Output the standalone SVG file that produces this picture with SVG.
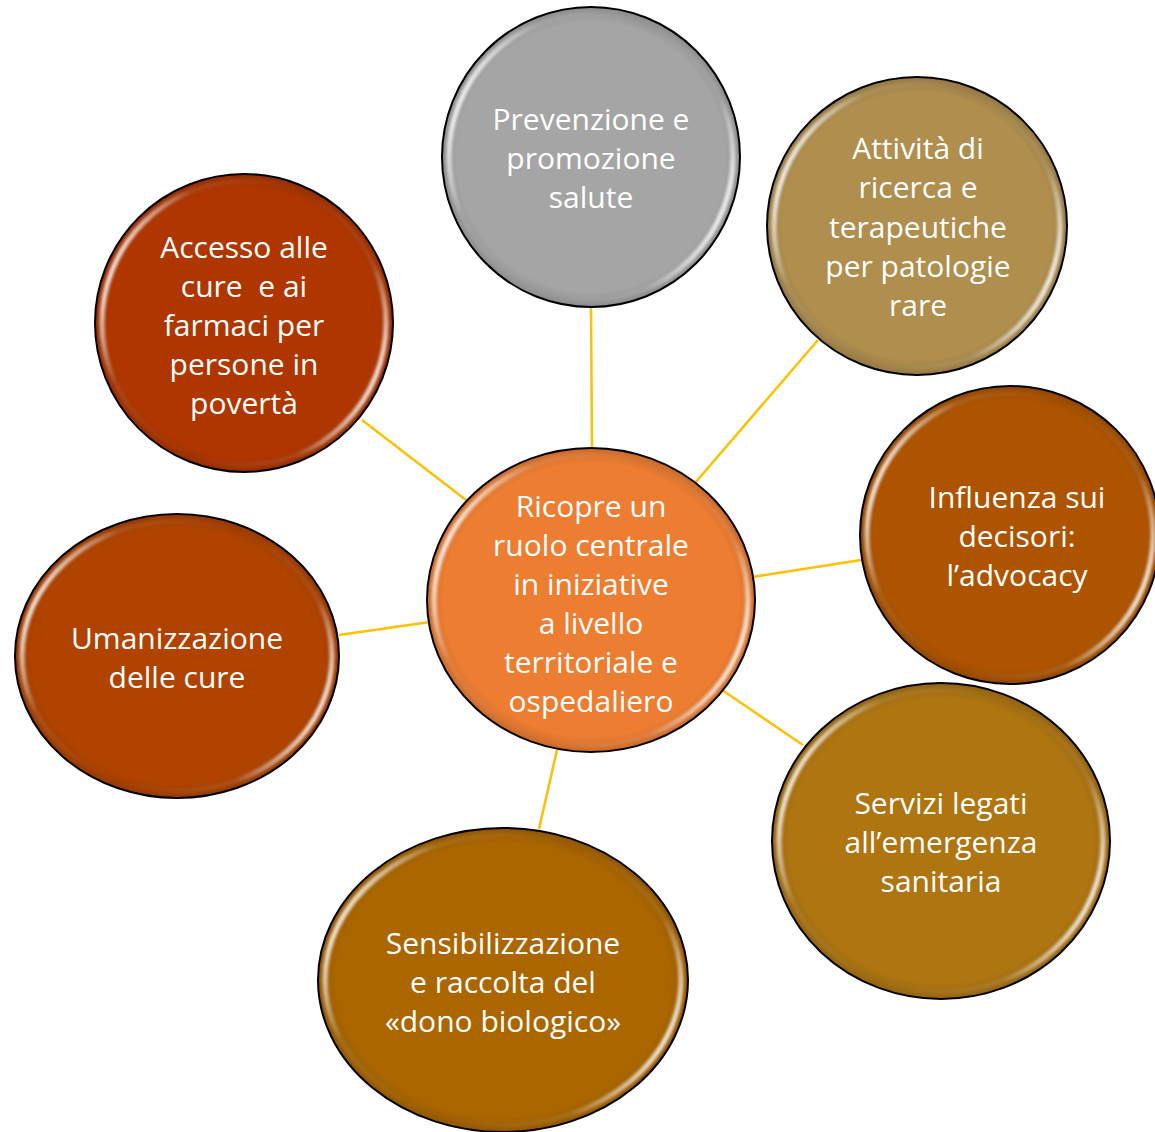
<svg xmlns="http://www.w3.org/2000/svg" width="1155" height="1132" viewBox="0 0 1155 1132">
<style>
.edge{stroke:#FFC000;stroke-width:2.5;fill:none}
.rim{fill:none;stroke:#000;stroke-width:2}
.hl{fill:none;stroke:url(#hlg);stroke-width:5;filter:url(#blur)}
.shade{fill:url(#shade)}
text{font-family:"Open Sans","Noto Sans","DejaVu Sans",sans-serif;font-size:30px;fill:#fff;text-anchor:middle}
</style>
<defs>
<linearGradient id="hlg" x1="0" y1="0.3" x2="1" y2="0.7">
<stop offset="0" stop-color="#fff" stop-opacity="1"/>
<stop offset="0.18" stop-color="#fff" stop-opacity="0.1"/>
<stop offset="0.5" stop-color="#fff" stop-opacity="0"/>
<stop offset="0.82" stop-color="#fff" stop-opacity="0.1"/>
<stop offset="1" stop-color="#fff" stop-opacity="1"/>
</linearGradient>
<radialGradient id="shade" cx="0.5" cy="0.5" r="0.5">
<stop offset="0.9" stop-color="#000" stop-opacity="0"/>
<stop offset="1" stop-color="#000" stop-opacity="0.15"/>
</radialGradient>
<filter id="blur" x="-10%" y="-10%" width="120%" height="120%"><feGaussianBlur stdDeviation="1.6"/></filter>
</defs>
<rect width="1155" height="1132" fill="#fff"/>
<g id="connectors">
<line class="edge" x1="591" y1="307" x2="592" y2="449"/>
<line class="edge" x1="818" y1="340" x2="695" y2="483"/>
<line class="edge" x1="362" y1="420" x2="466" y2="500"/>
<line class="edge" x1="861" y1="560" x2="752" y2="577"/>
<line class="edge" x1="339" y1="635" x2="430" y2="622"/>
<line class="edge" x1="803" y1="745" x2="722" y2="690"/>
<line class="edge" x1="539" y1="829" x2="557" y2="750"/>
</g>
<g id="node-prevenzione">
<ellipse cx="591" cy="157" rx="149" ry="150" fill="#A5A5A5"/>
<ellipse class="shade" cx="591" cy="157" rx="149" ry="150"/>
<ellipse class="hl" cx="591" cy="157" rx="142" ry="143"/>
<ellipse class="rim" cx="591" cy="157" rx="149" ry="150"/>
<text x="591" y="130">Prevenzione e</text>
<text x="591" y="169">promozione</text>
<text x="591" y="208">salute</text>
</g>
<g id="node-attivita">
<ellipse cx="917" cy="226" rx="150" ry="149" fill="#AF8E4E"/>
<ellipse class="shade" cx="917" cy="226" rx="150" ry="149"/>
<ellipse class="hl" cx="917" cy="226" rx="143" ry="142"/>
<ellipse class="rim" cx="917" cy="226" rx="150" ry="149"/>
<text x="918" y="159">Attività di</text>
<text x="918" y="198">ricerca e</text>
<text x="918" y="238">terapeutiche</text>
<text x="918" y="277">per patologie</text>
<text x="918" y="316">rare</text>
</g>
<g id="node-accesso">
<ellipse cx="244" cy="323" rx="149" ry="149" fill="#B03600"/>
<ellipse class="shade" cx="244" cy="323" rx="149" ry="149"/>
<ellipse class="hl" cx="244" cy="323" rx="142" ry="142"/>
<ellipse class="rim" cx="244" cy="323" rx="149" ry="149"/>
<text x="244" y="258">Accesso alle</text>
<text x="244" y="297" xml:space="preserve">cure  e ai</text>
<text x="244" y="336">farmaci per</text>
<text x="244" y="375">persone in</text>
<text x="244" y="414">povertà</text>
</g>
<g id="node-influenza">
<ellipse cx="1010" cy="535" rx="150" ry="149" fill="#AE5400"/>
<ellipse class="shade" cx="1010" cy="535" rx="150" ry="149"/>
<ellipse class="hl" cx="1010" cy="535" rx="143" ry="142"/>
<ellipse class="rim" cx="1010" cy="535" rx="150" ry="149"/>
<text x="1017" y="508">Influenza sui</text>
<text x="1017" y="547">decisori:</text>
<text x="1017" y="586">l’advocacy</text>
</g>
<g id="node-umanizzazione">
<ellipse cx="177" cy="656" rx="162" ry="142" fill="#B04300"/>
<ellipse class="shade" cx="177" cy="656" rx="162" ry="142"/>
<ellipse class="hl" cx="177" cy="656" rx="155" ry="135"/>
<ellipse class="rim" cx="177" cy="656" rx="162" ry="142"/>
<text x="177" y="649">Umanizzazione</text>
<text x="177" y="688">delle cure</text>
</g>
<g id="node-servizi">
<ellipse cx="941" cy="841" rx="169" ry="158" fill="#AE7511"/>
<ellipse class="shade" cx="941" cy="841" rx="169" ry="158"/>
<ellipse class="hl" cx="941" cy="841" rx="162" ry="151"/>
<ellipse class="rim" cx="941" cy="841" rx="169" ry="158"/>
<text x="941" y="814">Servizi legati</text>
<text x="941" y="853">all’emergenza</text>
<text x="941" y="892">sanitaria</text>
</g>
<g id="node-sensibilizzazione">
<ellipse cx="503" cy="980" rx="185" ry="152" fill="#AB6600"/>
<ellipse class="shade" cx="503" cy="980" rx="185" ry="152"/>
<ellipse class="hl" cx="503" cy="980" rx="178" ry="145"/>
<ellipse class="rim" cx="503" cy="980" rx="185" ry="152"/>
<text x="503" y="954">Sensibilizzazione</text>
<text x="503" y="993">e raccolta del</text>
<text x="503" y="1032">«dono biologico»</text>
</g>
<g id="node-center">
<ellipse cx="591" cy="600" rx="164" ry="152" fill="#ED7D31"/>
<ellipse class="shade" cx="591" cy="600" rx="164" ry="152"/>
<ellipse class="hl" cx="591" cy="600" rx="157" ry="145"/>
<ellipse class="rim" cx="591" cy="600" rx="164" ry="152"/>
<text x="591" y="517">Ricopre un</text>
<text x="591" y="556">ruolo centrale</text>
<text x="591" y="595">in iniziative</text>
<text x="591" y="634">a livello</text>
<text x="591" y="673">territoriale e</text>
<text x="591" y="712">ospedaliero</text>
</g>
</svg>
